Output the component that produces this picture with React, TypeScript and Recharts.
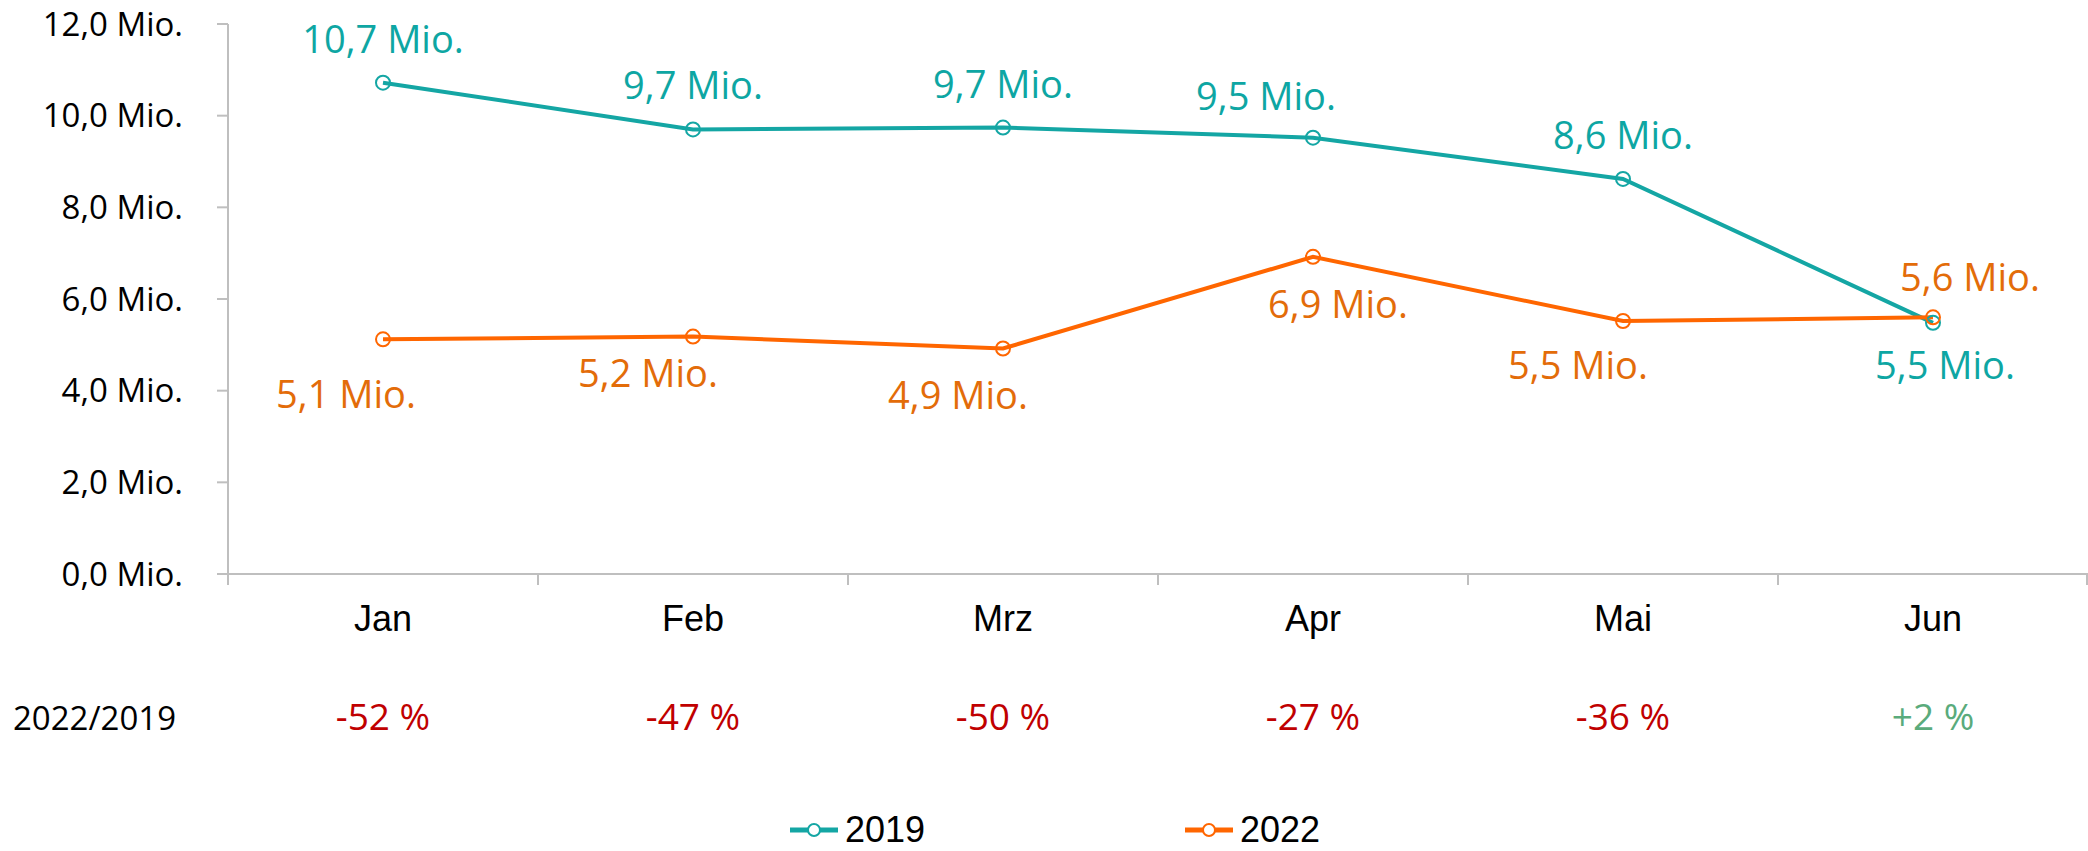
import React from "react";
import { LineChart, Line, XAxis, YAxis, LabelList, Legend } from "recharts";

const months = ["Jan", "Feb", "Mrz", "Apr", "Mai", "Jun"];
const visitors2019 = [10.72, 9.7, 9.74, 9.52, 8.62, 5.48];
const visitors2022 = [5.12, 5.18, 4.92, 6.92, 5.52, 5.6];
const changeLabels = ["-52 %", "-47 %", "-50 %", "-27 %", "-36 %", "+2 %"];
const yTicks = [0, 2, 4, 6, 8, 10, 12];

const TEAL = "#14a6a4";
const TEAL_TEXT = "#0ea6a3";
const ORANGE = "#ff6600";
const ORANGE_TEXT = "#e36c09";
const RED = "#c00000";
const GREEN = "#5aab7c";
const AXIS = "#bfbfbf";
const SANS = "'Open Sans', 'Noto Sans', sans-serif";

// label nudges (dx, dy to baseline) per point, like the hand-placed labels in the source
const offs2019 = [[0, -30], [0, -30], [0, -30], [-47, -28], [0, -30], [12, 56]];
const offs2022 = [[-37, 69], [-45, 50], [-45, 60], [25, 61], [-45, 58], [37, -26]];

const data = months.map((m, i) => ({
  month: m,
  y2019: visitors2019[i],
  y2022: visitors2022[i],
  change: changeLabels[i],
}));

const fmtMio = (v: number) => `${v.toFixed(1).replace(".", ",")} Mio.`;

const HALF_BAND = 155;

function MonthTick(props: any) {
  const { x, y, payload, index } = props;
  const change = changeLabels[index];
  const isLast = index === months.length - 1;
  return (
    <g>
      <line x1={x - HALF_BAND} y1={y} x2={x - HALF_BAND} y2={y + 11} stroke={AXIS} strokeWidth={2} />
      {isLast && <line x1={x + HALF_BAND - 1} y1={y} x2={x + HALF_BAND - 1} y2={y + 11} stroke={AXIS} strokeWidth={2} />}
      <text x={x} y={y + 57} textAnchor="middle" fontFamily="'Liberation Sans', Arial, sans-serif" fontSize={36} fill="#000">
        {payload.value}
      </text>
      <text x={x} y={y + 156} textAnchor="middle" fontFamily={SANS} fontSize={37} fill={change.startsWith("+") ? GREEN : RED}>
        {change}
      </text>
      {index === 0 && (
        <text x={13} y={y + 156} textAnchor="start" fontFamily={SANS} fontSize={33} fill="#000">
          2022/2019
        </text>
      )}
    </g>
  );
}

function makeLabel(color: string, offs: number[][]) {
  return (props: any) => {
    const { x, y, value, index } = props;
    const [dx, dy] = offs[index];
    return (
      <text x={x + dx} y={y + dy} textAnchor="middle" fontFamily={SANS} fontSize={38} fill={color}>
        {fmtMio(value)}
      </text>
    );
  };
}

function LegendContent() {
  const items = [
    { name: "2019", color: TEAL },
    { name: "2022", color: ORANGE },
  ];
  return (
    <div style={{ display: "flex", justifyContent: "center", paddingLeft: 22 }}>
      {items.map((it, i) => (
        <div key={it.name} style={{ display: "flex", alignItems: "center", marginRight: i === 0 ? 260 : 0 }}>
          <svg width={48} height={20} style={{ marginRight: 7 }}>
            <line x1={0} y1={10} x2={48} y2={10} stroke={it.color} strokeWidth={5} />
            <circle cx={24} cy={10} r={6} fill="#fff" stroke={it.color} strokeWidth={2} />
          </svg>
          <span style={{ fontFamily: "'Liberation Sans Narrow', 'Liberation Sans', Arial, sans-serif", fontSize: 36, lineHeight: "40px", color: "#000" }}>
            {it.name}
          </span>
        </div>
      ))}
    </div>
  );
}

export default function App() {
  return (
    <div style={{ position: "absolute", left: 0, top: 0, width: 2088, height: 851, background: "#fff", overflow: "hidden" }}>
      <LineChart width={2088} height={851} data={data} margin={{ top: 24, right: 0, left: 0, bottom: 0 }}>
        <XAxis
          dataKey="month"
          scale="band"
          height={277}
          axisLine={{ stroke: AXIS, strokeWidth: 2 }}
          tickLine={false}
          tickSize={0}
          tickMargin={0}
          interval={0}
          tick={<MonthTick />}
        />
        <YAxis
          width={228}
          domain={[0, 12]}
          ticks={yTicks}
          interval={0}
          axisLine={{ stroke: AXIS, strokeWidth: 2 }}
          tickLine={{ stroke: AXIS, strokeWidth: 2 }}
          tickSize={11}
          tickMargin={34}
          tickFormatter={(v: number) => fmtMio(v)}
          tick={{ fontFamily: SANS, fontSize: 33, fill: "#000" }}
        />
        <Legend
          verticalAlign="middle"
          content={<LegendContent />}
          wrapperStyle={{ top: 810, left: 0, width: 2088 }}
        />
        <Line
          dataKey="y2019"
          name="2019"
          stroke={TEAL}
          strokeWidth={4}
          dot={{ r: 7, stroke: TEAL, strokeWidth: 2, fill: "none" }}
          isAnimationActive={false}
        >
          <LabelList dataKey="y2019" content={makeLabel(TEAL_TEXT, offs2019)} />
        </Line>
        <Line
          dataKey="y2022"
          name="2022"
          stroke={ORANGE}
          strokeWidth={4}
          dot={{ r: 7, stroke: ORANGE, strokeWidth: 2, fill: "none" }}
          isAnimationActive={false}
        >
          <LabelList dataKey="y2022" content={makeLabel(ORANGE_TEXT, offs2022)} />
        </Line>
      </LineChart>
    </div>
  );
}
